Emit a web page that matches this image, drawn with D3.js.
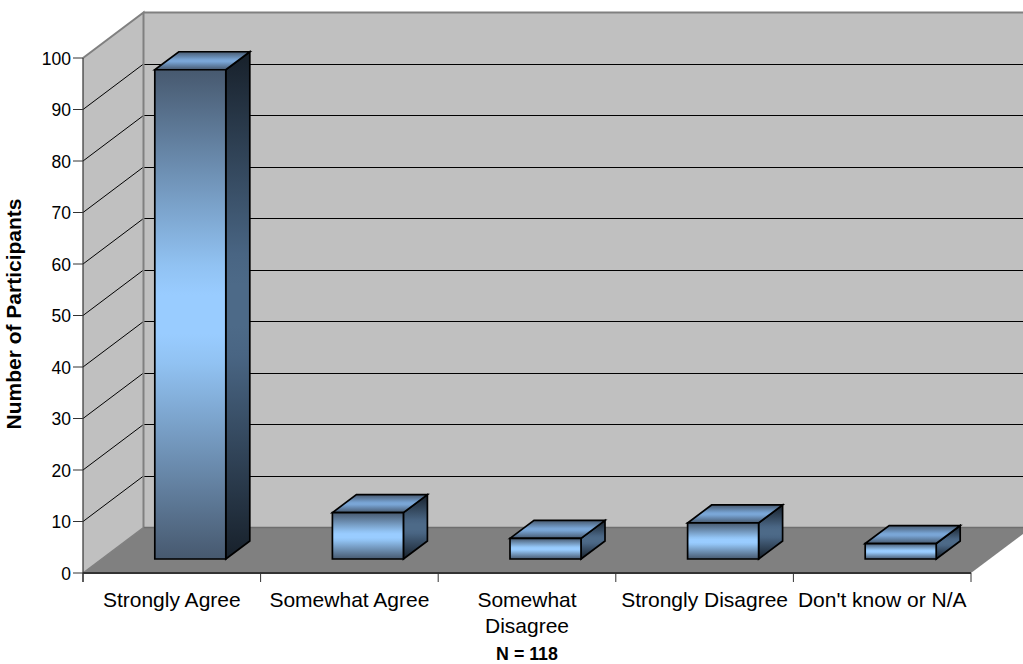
<!DOCTYPE html>
<html><head><meta charset="utf-8">
<script src="https://cdnjs.cloudflare.com/ajax/libs/d3/7.8.5/d3.min.js"></script>
<style>html,body{margin:0;padding:0;background:#fff}svg{display:block}text{font-family:"Liberation Sans",Arial,sans-serif;fill:#000}</style>
</head><body><svg id="c" width="1023" height="664"></svg>
<script>
const categories=[["Strongly Agree"],["Somewhat Agree"],["Somewhat","Disagree"],["Strongly Disagree"],["Don't know or N/A"]];
const values=[95,9,4,7,3];
const yTicks=[0,10,20,30,40,50,60,70,80,90,100];
const yTitle="Number of Participants";
const note="N = 118";

const svg=d3.select("#c");
const y=d3.scaleLinear().domain([0,100]).range([573,58]);
const x=d3.scaleBand().domain(d3.range(categories.length)).range([83,971]);
const DX=60.5,DY=-45.5;           // full depth of the plot box
const barDX=24,barDY=-18;         // depth of one bar
const barOffX=18.5,barOffY=-14;   // bar's offset into the floor
const barW=71;
const line=d3.line();

function grad(id,edge,near,mid){
  const g=svg.append("defs").append("linearGradient").attr("id",id).attr("x1",0).attr("y1",0).attr("x2",0).attr("y2",1);
  [[0,edge],[40,near],[46,mid],[54,mid],[60,near],[100,edge]].forEach(s=>
    g.append("stop").attr("offset",s[0]+"%").attr("stop-color",s[1]));
}
grad("front","#47596f","#91c2f2","#99ccff");
grad("side","#17202a","#496583","#4d6a88");
grad("top","#47596f","#749ecc","#7aa6d6");

const x0=x.range()[0],x1=x.range()[1],Y0=y(0),Y1=y(100);
// walls
svg.append("path").attr("fill","#c0c0c0").attr("d",line([[x0,Y0],[x0+DX,Y0+DY],[x0+DX,Y1+DY],[x0,Y1]])+"Z");
svg.append("rect").attr("x",x0+DX).attr("y",Y1+DY).attr("width",1023-x0-DX).attr("height",Y0-Y1).attr("fill","#c0c0c0");
// floor
svg.append("path").attr("fill","#808080").attr("d",line([[x0,Y0],[x0+DX,Y0+DY],[1023,Y0+DY],[1023,Y0+DY+(x1+DX-1023)*(-DY/DX)],[x1,Y0]])+"Z");
// gridlines
yTicks.filter(t=>t>0&&t<100).forEach(t=>{
  svg.append("path").attr("fill","none").attr("stroke","#000").attr("stroke-width",1)
    .attr("d",line([[x0,y(t)],[x0+DX,y(t)+DY]]));
  svg.append("path").attr("fill","none").attr("stroke","#000").attr("stroke-width",1).attr("shape-rendering","crispEdges")
    .attr("d",line([[x0+DX,y(t)+DY],[1023,y(t)+DY]]));
});
// wall borders
svg.append("path").attr("fill","none").attr("stroke","#808080").attr("stroke-width",1.5)
  .attr("d",line([[x0,Y0],[x0+DX,Y0+DY]]));
svg.append("path").attr("fill","none").attr("stroke","#808080").attr("stroke-width",2)
  .attr("d",line([[x0,Y1],[x0+DX,Y1+DY],[x0+DX,Y0+DY]]));
svg.append("path").attr("fill","none").attr("stroke","#808080").attr("stroke-width",2)
  .attr("d",line([[x0+DX,Y1+DY],[1023,Y1+DY]]));
svg.append("path").attr("fill","none").attr("stroke","#6e6e6e").attr("stroke-width",1.5)
  .attr("d",line([[x0+DX,Y0+DY],[1023,Y0+DY]]));
// bars
values.forEach((v,i)=>{
  const l=x(i)+(x.bandwidth()-barW)/2+barOffX,r=l+barW,b=Y0+barOffY,t=y(v)+barOffY;
  const g=svg.append("g").attr("stroke","#000").attr("stroke-width",1.7).attr("stroke-linejoin","miter");
  g.append("path").attr("fill","url(#side)").attr("d",line([[r,b],[r+barDX,b+barDY],[r+barDX,t+barDY],[r,t]])+"Z");
  g.append("path").attr("fill","url(#top)").attr("d",line([[l,t],[l+barDX,t+barDY],[r+barDX,t+barDY],[r,t]])+"Z");
  g.append("path").attr("fill","url(#front)").attr("d",line([[l,b],[r,b],[r,t],[l,t]])+"Z");
});
// x axis
svg.append("line").attr("x1",x0).attr("x2",x1).attr("y1",Y0).attr("y2",Y0).attr("stroke","#333").attr("stroke-width",2);
d3.range(categories.length+1).forEach(i=>{
  const px=x0+i*x.bandwidth();
  svg.append("line").attr("x1",px).attr("x2",px).attr("y1",Y0).attr("y2",Y0+9).attr("stroke","#333");
});
categories.forEach((c,i)=>{
  const t=svg.append("text").attr("text-anchor","middle").attr("font-size",21);
  c.forEach((s,k)=>t.append("tspan").attr("x",x(i)+x.bandwidth()/2).attr("y",606.5+k*26).text(s));
});
// y axis
svg.append("line").attr("x1",x0).attr("x2",x0).attr("y1",Y0+9).attr("y2",Y1).attr("stroke","#333").attr("stroke-width",1.2);
yTicks.forEach(t=>{
  svg.append("line").attr("x1",x0-10).attr("x2",x0).attr("y1",y(t)).attr("y2",y(t)).attr("stroke","#333");
  svg.append("text").attr("x",x0-12).attr("y",y(t)+6.5).attr("text-anchor","end").attr("font-size",17.5).text(t);
});
svg.append("text").attr("transform","translate(21,314) rotate(-90)").attr("text-anchor","middle").attr("font-size",21).attr("font-weight","bold").text(yTitle);
svg.append("text").attr("x",527).attr("y",660).attr("text-anchor","middle").attr("font-size",17.8).attr("font-weight","bold").text(note);
</script></body></html>
